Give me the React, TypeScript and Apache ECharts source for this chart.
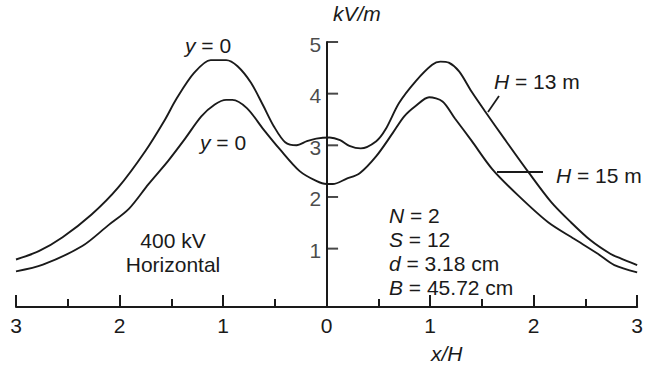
import React, { useEffect, useRef } from "react";
import * as echarts from "echarts";

const h13X = [-3.0, -2.78, -2.55, -2.27, -2.01, -1.75, -1.56, -1.45, -1.28, -1.12, -0.97, -0.86, -0.73, -0.61, -0.51, -0.40, -0.29, -0.19, -0.10, 0.03, 0.13, 0.22, 0.33, 0.48, 0.57, 0.70, 0.86, 1.02, 1.10, 1.18, 1.28, 1.40, 1.53, 1.72, 1.95, 2.17, 2.36, 2.55, 2.74, 2.84, 3.0];
const h13Y = [0.79, 0.95, 1.22, 1.66, 2.19, 2.89, 3.50, 3.90, 4.40, 4.65, 4.65, 4.53, 4.21, 3.76, 3.37, 3.06, 3.00, 3.08, 3.13, 3.15, 3.10, 2.99, 2.94, 3.08, 3.31, 3.82, 4.24, 4.56, 4.62, 4.60, 4.43, 4.04, 3.66, 3.12, 2.48, 1.90, 1.51, 1.16, 0.90, 0.81, 0.68];

const h15X = [-3.0, -2.74, -2.36, -2.11, -1.91, -1.72, -1.53, -1.37, -1.21, -1.08, -0.97, -0.91, -0.77, -0.61, -0.45, -0.26, -0.10, 0.0, 0.06, 0.19, 0.32, 0.48, 0.64, 0.75, 0.86, 0.99, 1.12, 1.24, 1.40, 1.60, 1.85, 2.14, 2.39, 2.62, 2.78, 3.0];
const h15Y = [0.56, 0.69, 1.05, 1.45, 1.77, 2.25, 2.70, 3.12, 3.56, 3.79, 3.88, 3.88, 3.72, 3.31, 2.92, 2.50, 2.31, 2.25, 2.25, 2.35, 2.46, 2.79, 3.24, 3.56, 3.76, 3.93, 3.85, 3.52, 3.09, 2.54, 2.03, 1.51, 1.19, 0.90, 0.68, 0.54];

const yTicks = [1, 2, 3, 4, 5];

const FONT = "'Liberation Sans', Arial, sans-serif";
const INK = "#1a1a1a";
const FS = 21;

export default function App() {
  const ref = useRef<HTMLDivElement>(null);
  useEffect(() => {
    if (!ref.current) return;
    const chart = echarts.init(ref.current, null, { renderer: "svg" });
    const txt = (x: number, y: number, text: string, extra: any = {}) => ({
      type: "text",
      x,
      y,
      style: {
        text,
        fontFamily: FONT,
        fontSize: FS,
        fill: INK,
        verticalAlign: "middle",
        ...extra,
      },
    });
    const rich = {
      i: { fontFamily: FONT, fontSize: FS, fontStyle: "italic", fill: INK, color: INK },
      n: { fontFamily: FONT, fontSize: FS, fill: INK, color: INK },
    };
    const rtxt = (x: number, y: number, text: string, align = "left") => ({
      type: "text",
      x,
      y,
      style: {
        text,
        rich,
        fontFamily: FONT,
        fontSize: FS,
        fill: INK,
        align,
        verticalAlign: "middle",
      },
    });
    chart.setOption({
      animation: false,
      grid: { left: 16, right: 3, top: 42, bottom: 59 },
      xAxis: {
        type: "value",
        min: -3,
        max: 3,
        interval: 1,
        axisLine: { onZero: false, lineStyle: { color: INK, width: 2 } },
        axisTick: { show: true, inside: true, length: 12, lineStyle: { color: INK, width: 2 } },
        minorTick: { show: true, splitNumber: 2, length: 8, lineStyle: { color: INK, width: 2 } },
        splitLine: { show: false },
        axisLabel: {
          color: INK,
          fontFamily: FONT,
          fontSize: FS,
          margin: 8,
          formatter: (v: number) => String(Math.abs(v)),
        },
      },
      yAxis: {
        type: "value",
        min: -0.13,
        max: 5,
        axisLine: { show: true, onZero: true, lineStyle: { color: INK, width: 2 } },
        axisTick: { show: false },
        axisLabel: { show: false },
        splitLine: { show: false },
      },
      series: [
        {
          type: "line",
          data: h13X.map((x, i) => [x, h13Y[i]]),
          showSymbol: false,
          smooth: 0.3,
          lineStyle: { color: INK, width: 1.9 },
          silent: true,
        },
        {
          type: "line",
          data: h15X.map((x, i) => [x, h15Y[i]]),
          showSymbol: false,
          smooth: 0.3,
          lineStyle: { color: INK, width: 1.9 },
          silent: true,
        },
        {
          type: "scatter",
          data: yTicks.map((v) => [0, v]),
          symbol: "rect",
          symbolSize: [11, 2],
          symbolOffset: [6, 0],
          itemStyle: { color: INK },
          silent: true,
          clip: false,
          label: {
            show: true,
            position: "left",
            distance: 6,
            offset: [0, 2],
            color: INK,
            fontFamily: FONT,
            fontSize: FS,
            formatter: (p: any) => String(p.value[1]),
          },
        },
      ],
      graphic: [
        rtxt(333, 13, "{i|kV/m}"),
        rtxt(431, 353, "{i|x/H}"),
        rtxt(185, 45, "{i|y}{n| = 0}"),
        rtxt(200, 142, "{i|y}{n| = 0}"),
        txt(173, 240, "400 kV", { align: "center" }),
        txt(173, 264, "Horizontal", { align: "center" }),
        rtxt(389, 215, "{i|N}{n| = 2}"),
        rtxt(389, 239, "{i|S}{n| = 12}"),
        rtxt(389, 263, "{i|d}{n| = 3.18 cm}"),
        rtxt(389, 287, "{i|B}{n| = 45.72 cm}"),
        rtxt(494, 81, "{i|H}{n| = 13 m}"),
        rtxt(556, 175, "{i|H}{n| = 15 m}"),
        {
          type: "line",
          shape: { x1: 499, y1: 96, x2: 488, y2: 112 },
          style: { stroke: INK, lineWidth: 1.8 },
        },
        {
          type: "line",
          shape: { x1: 497, y1: 172, x2: 543, y2: 172 },
          style: { stroke: INK, lineWidth: 1.8 },
        },
      ],
    });
    return () => chart.dispose();
  }, []);
  return (
    <div
      ref={ref}
      style={{ position: "fixed", left: 0, top: 0, width: 646, height: 366, background: "#fff" }}
    />
  );
}
